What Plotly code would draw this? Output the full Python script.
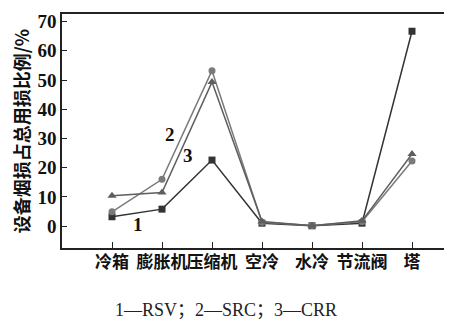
import plotly.graph_objects as go

categories = ["冷箱", "膨胀机", "压缩机", "空冷", "水冷", "节流阀", "塔"]
rsv = [3.2, 5.8, 22.6, 1.0, 0.1, 1.0, 66.7]
src = [4.9, 16.0, 53.2, 1.3, 0.2, 1.5, 22.3]
crr = [10.4, 11.5, 49.3, 1.6, 0.1, 1.8, 24.7]
y_ticks = [0, 10, 20, 30, 40, 50, 60, 70]

xi = list(range(len(categories)))
fig = go.Figure()
fig.add_trace(go.Scatter(x=xi, y=rsv, mode="lines+markers", name="RSV",
                         line=dict(color="#333333", width=1.5),
                         marker=dict(symbol="square", size=7, color="#333333")))
fig.add_trace(go.Scatter(x=xi, y=src, mode="lines+markers", name="SRC",
                         line=dict(color="#7a7a7a", width=1.5),
                         marker=dict(symbol="circle", size=7, color="#7a7a7a")))
fig.add_trace(go.Scatter(x=xi, y=crr, mode="lines+markers", name="CRR",
                         line=dict(color="#5e5e5e", width=1.5),
                         marker=dict(symbol="triangle-up", size=8, color="#5e5e5e")))

serif = "Liberation Serif, Noto Sans CJK SC"
for txt, x, y in [("1", 0.52, 0.6), ("2", 1.16, 31.2), ("3", 1.52, 24.3)]:
    fig.add_annotation(x=x, y=y, text="<b>" + txt + "</b>", showarrow=False,
                       font=dict(family=serif, size=19, color="#111"))

fig.add_annotation(xref="paper", yref="paper", x=0.42, y=-0.315,
                   text="1—RSV；2—SRC；3—CRR", showarrow=False,
                   font=dict(family=serif, size=18, color="#222"))

fig.update_layout(
    width=452, height=322,
    margin=dict(l=54, r=8, t=6, b=82),
    paper_bgcolor="white", plot_bgcolor="white",
    showlegend=False,
    xaxis=dict(range=[-1, 6.8], tickmode="array", tickvals=xi,
               ticktext=["<b>" + c + "</b>" for c in categories],
               tickangle=0, automargin=False, ticklabelstandoff=-2,
               showgrid=False, zeroline=False, showline=True, linecolor="#222", linewidth=1.5,
               mirror=True, ticks="inside", ticklen=6, tickcolor="#222",
               tickfont=dict(family="Noto Sans CJK SC", size=17, color="#111")),
    yaxis=dict(range=[-7.5, 72.6], tickmode="array", tickvals=y_ticks,
               ticktext=["<b>%d</b>" % v for v in y_ticks], automargin=False,
               showgrid=False, zeroline=False, showline=True, linecolor="#222", linewidth=1.5,
               ticks="inside", ticklen=5, tickcolor="#222",
               tickfont=dict(family="Liberation Serif", size=19, color="#111"),
               title=dict(text="<b>设备烟损占总用损比例/%</b>", standoff=8,
                          font=dict(family="Noto Sans CJK SC", size=18, color="#111"))),
)
fig.write_html("out.html")
